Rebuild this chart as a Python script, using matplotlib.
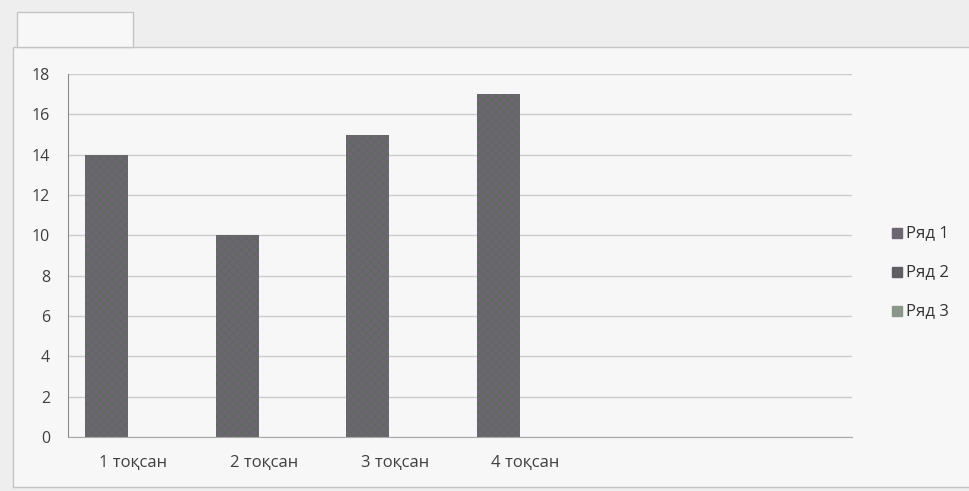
import matplotlib.pyplot as plt
import numpy as np

plt.rcParams['font.family'] = ['Open Sans', 'DejaVu Sans']
plt.rcParams['hatch.linewidth'] = 0.6

categories = ['1 тоқсан', '2 тоқсан', '3 тоқсан', '4 тоқсан', '', '']
series_names = ['Ряд 1', 'Ряд 2', 'Ряд 3']
series1 = [14, 10, 15, 17, 0, 0]
series2 = [0, 0, 0, 0, 0, 0]
series3 = [0, 0, 0, 0, 0, 0]
colors = ['#6b6670', '#5f5f63', '#8c978c']

fig = plt.figure(figsize=(9.69, 4.91), dpi=100)
fig.patch.set_facecolor('#eeeeee')

# outer chart frame and empty title box (kept behind the axes)
fig.patches.append(plt.Rectangle((13 / 969, 1 - 487 / 491), 960 / 969, 440 / 491,
                                 transform=fig.transFigure, facecolor='#f7f7f7',
                                 edgecolor='#c4c4c4', linewidth=1.0, zorder=-10))
fig.patches.append(plt.Rectangle((17 / 969, 1 - 47 / 491), 116 / 969, 35 / 491,
                                 transform=fig.transFigure, facecolor='#f7f7f7',
                                 edgecolor='#c4c4c4', linewidth=1.0, zorder=-10))

ax = fig.add_axes([68 / 969, 1 - 437 / 491, 784 / 969, 363 / 491])
ax.set_facecolor('none')

x = np.arange(len(categories))
w = 0.33
ax.bar(x - 0.205, series1, w, color=colors[0], hatch='xxxx', edgecolor='#5d6a5c', linewidth=0)
ax.bar(x, series2, w, color=colors[1])
ax.bar(x + 0.205, series3, w, color=colors[2])

ax.set_xlim(-0.5, len(categories) - 0.5)
ax.set_ylim(0, 18)
ax.set_yticks(range(0, 19, 2))
ax.set_xticks(x)
ax.set_xticklabels(categories)
ax.tick_params(axis='x', length=0, pad=13, labelsize=12, colors='#404040')
ax.tick_params(axis='y', length=0, pad=13, labelsize=11.5, colors='#404040')
ax.yaxis.grid(True, color='#cccccc', linewidth=1.0)
ax.set_axisbelow(True)
for s in ['top', 'right']:
    ax.spines[s].set_visible(False)
ax.spines['left'].set_color('#8c8c8c')
ax.spines['bottom'].set_color('#aaaaaa')

for i, name in enumerate(series_names):
    yy = 1 - (233 + i * 39) / 491
    fig.patches.append(plt.Rectangle((892 / 969, yy - 5 / 491), 10 / 969, 10 / 491,
                                     transform=fig.transFigure, color=colors[i]))
    fig.text(906 / 969, yy, name, fontsize=12, va='center', color='#333333')

fig.savefig('out.png', dpi=100, facecolor=fig.get_facecolor())
